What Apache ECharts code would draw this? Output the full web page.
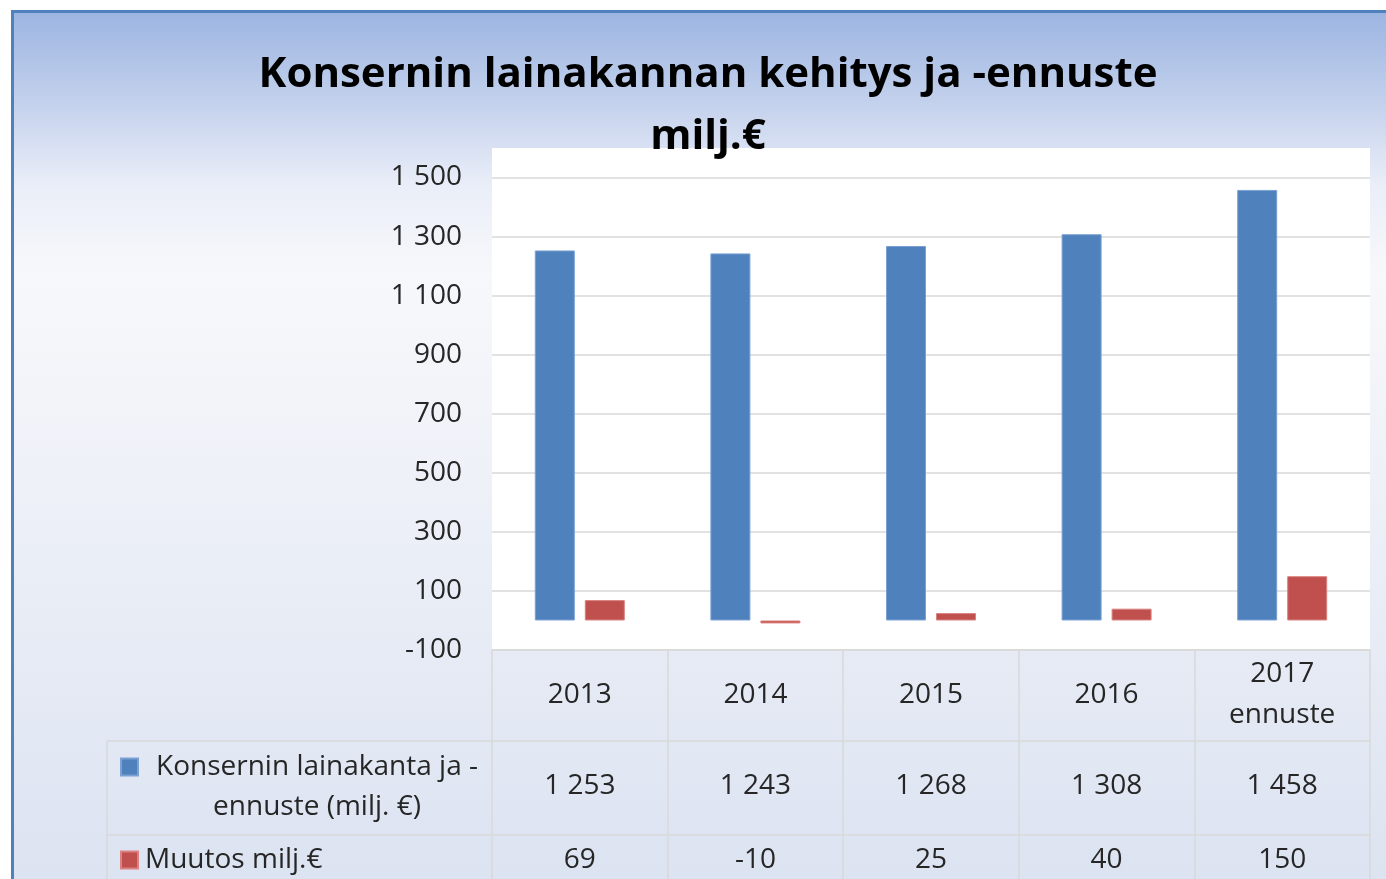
<!DOCTYPE html>
<html>
<head>
<meta charset="utf-8">
<script src="https://cdn.jsdelivr.net/npm/echarts@6/dist/echarts.min.js"></script>
<style>
  html, body { margin: 0; padding: 0; background: #ffffff; }
  #frame {
    position: absolute; left: 11px; top: 10px;
    border-left: 3px solid #4f81bd; border-top: 3px solid #4f81bd;
    width: 1372px; height: 866px;
  }
  #chart { width: 1372px; height: 866px; }
</style>
</head>
<body>
<div id="frame"><div id="chart"></div></div>
<script>
// ---- data ----
const titleText = 'Konsernin lainakannan kehitys ja -ennuste\nmilj.€';
const categories = ['2013', '2014', '2015', '2016', '2017\nennuste'];
const seriesNames = ['Konsernin lainakanta ja -ennuste (milj. €)', 'Muutos milj.€'];
const lainakanta = [1253, 1243, 1268, 1308, 1458];
const muutos = [69, -10, 25, 40, 150];
const yMin = -100, yMax = 1600, yInterval = 200;

// ---- helpers ----
const FONT = '"Open Sans", "Noto Sans", sans-serif';
const FS = 28;
function fmt(v) {
  const s = String(Math.abs(v)).replace(/\B(?=(\d{3})+(?!\d))/g, ' ');
  return (v < 0 ? '-' : '') + s;
}
const gridLine = '#d9d9d9';
const txt = '#262626';

const chart = echarts.init(document.getElementById('chart'), null, { renderer: 'canvas' });

const option = {
  backgroundColor: new echarts.graphic.LinearGradient(0, 0, 0, 1, [
    { offset: 0, color: '#9cb5e1' },
    { offset: 0.1, color: '#c2d0ec' },
    { offset: 0.2, color: '#eaeef8' },
    { offset: 0.3, color: '#f7f8fb' },
    { offset: 1, color: '#dce3f1' }
  ]),
  animation: false,
  textStyle: { fontFamily: FONT },
  title: {
    text: titleText,
    left: 694, top: 31, padding: 0,
    textAlign: 'center',
    textStyle: { fontFamily: FONT, fontWeight: 'bold', fontSize: 42, color: '#000000', lineHeight: 62 }
  },
  legend: [
    {
      data: [seriesNames[0]],
      orient: 'vertical', left: 106, top: 694, padding: 0,
      itemWidth: 17, itemHeight: 17, icon: 'rect',
      formatter: () => '{a|Konsernin lainakanta ja -}\n{a|ennuste (milj. €)}',
      textStyle: {
        fontFamily: FONT, fontSize: FS, color: txt, lineHeight: 40, padding: [40, 0, 0, 0],
        rich: { a: { fontFamily: FONT, fontSize: FS, color: txt, lineHeight: 40, width: 348, align: 'center' } }
      }
    },
    {
      data: [seriesNames[1]],
      orient: 'vertical', left: 106, top: 827, padding: 0,
      itemWidth: 17, itemHeight: 17, icon: 'rect',
      textStyle: { fontFamily: FONT, fontSize: FS, color: txt, lineHeight: 40, padding: [0, 0, 0, 2] }
    }
  ],
  grid: {
    left: 478, right: 16, top: 135, bottom: 229,
    show: true, backgroundColor: '#ffffff', borderWidth: 0
  },
  yAxis: {
    type: 'value', min: yMin, max: yMax, interval: yInterval,
    axisLine: { show: false }, axisTick: { show: false },
    splitLine: { show: true, showMaxLine: false, lineStyle: { color: gridLine, width: 1.5 } },
    axisLabel: {
      showMaxLabel: false, margin: 30, fontSize: FS, color: txt, fontFamily: FONT,
      formatter: v => fmt(v)
    }
  },
  xAxis: [
    {
      type: 'category', data: categories, position: 'bottom',
      axisLine: { show: true, onZero: false, lineStyle: { color: gridLine, width: 1.5 } },
      axisTick: { show: true, length: 91, lineStyle: { color: gridLine, width: 1.5 } },
      axisLabel: { margin: 45, verticalAlign: 'middle', fontSize: FS, color: txt, fontFamily: FONT, lineHeight: 41, interval: 0 }
    },
    {
      type: 'category', data: lainakanta.map(fmt), position: 'bottom', offset: 91,
      axisLine: { show: true, onZero: false, lineStyle: { color: gridLine, width: 1.5 } },
      axisTick: { show: true, length: 94, lineStyle: { color: gridLine, width: 1.5 } },
      axisLabel: { margin: 45, verticalAlign: 'middle', fontSize: FS, color: txt, fontFamily: FONT, interval: 0 }
    },
    {
      type: 'category', data: muutos.map(fmt), position: 'bottom', offset: 185,
      axisLine: { show: true, onZero: false, lineStyle: { color: gridLine, width: 1.5 } },
      axisTick: { show: true, length: 60, lineStyle: { color: gridLine, width: 1.5 } },
      axisLabel: { margin: 25, verticalAlign: 'middle', fontSize: FS, color: txt, fontFamily: FONT, interval: 0 }
    }
  ],
  graphic: [
    { type: 'line', shape: { x1: 93, y1: 728, x2: 478, y2: 728 }, style: { stroke: gridLine, lineWidth: 1.5 } },
    { type: 'line', shape: { x1: 93, y1: 822, x2: 478, y2: 822 }, style: { stroke: gridLine, lineWidth: 1.5 } },
    { type: 'line', shape: { x1: 93, y1: 728, x2: 93, y2: 866 }, style: { stroke: gridLine, lineWidth: 1.5 } }
  ],
  series: [
    {
      name: seriesNames[0], type: 'bar', xAxisIndex: 0, data: lainakanta,
      barWidth: 40, barGap: '25%',
      itemStyle: { color: '#4f81bd', borderColor: '#7aa0d4', borderWidth: 1 }
    },
    {
      name: seriesNames[1], type: 'bar', xAxisIndex: 0, data: muutos,
      barWidth: 40, barGap: '25%',
      itemStyle: { color: '#c0504d', borderColor: '#d98280', borderWidth: 1 }
    }
  ]
};
chart.setOption(option);
</script>
</body>
</html>
